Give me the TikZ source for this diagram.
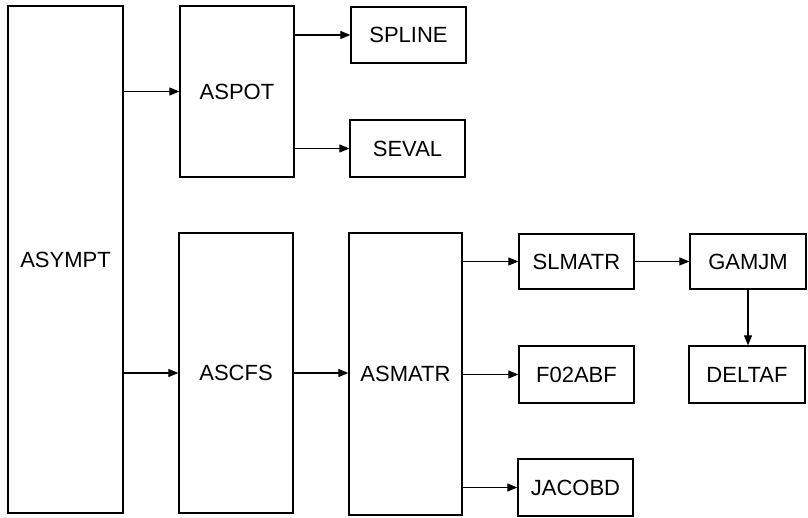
\documentclass[tikz,border=0pt]{standalone}
\usepackage{fontspec}
\setmainfont{Liberation Sans}
\usetikzlibrary{arrows.meta}
\begin{document}
\begin{tikzpicture}[x=1pt,y=-1pt,
  box/.style={draw,line width=1.3pt,inner sep=0pt,font=\fontsize{22}{26}\selectfont},
  arr/.style={line width=1.1pt,-{Triangle[length=10pt,width=8pt]}}]
\useasboundingbox (0,0) rectangle (808,517);
\node[box,minimum width=115pt,minimum height=507pt] (asympt) at (65.5,259.5) {ASYMPT};
\node[box,minimum width=114pt,minimum height=171pt] (aspot) at (237,91.5) {ASPOT};
\node[box,minimum width=115pt,minimum height=56pt] (spline) at (408.5,35) {SPLINE};
\node[box,minimum width=115pt,minimum height=57pt] (seval) at (407.5,148.5) {SEVAL};
\node[box,minimum width=114pt,minimum height=280pt] (ascfs) at (236,373) {ASCFS};
\node[box,minimum width=113pt,minimum height=282pt] (asmatr) at (405.5,374) {ASMATR};
\node[box,minimum width=115pt,minimum height=55pt] (slmatr) at (576.5,261.5) {SLMATR};
\node[box,minimum width=116pt,minimum height=55pt] (gamjm) at (748,261.5) {GAMJM};
\node[box,minimum width=115pt,minimum height=57pt] (f02abf) at (576.5,374.5) {F02ABF};
\node[box,minimum width=116pt,minimum height=57pt] (deltaf) at (747,374.5) {DELTAF};
\node[box,minimum width=115pt,minimum height=57pt] (jacobd) at (575.5,487.5) {JACOBD};
\draw[arr] (asympt.east |- aspot) -- (aspot.west);
\draw[arr] (asympt.east |- ascfs) -- (ascfs.west);
\draw[arr] (aspot.east |- spline) -- (spline.west);
\draw[arr] (aspot.east |- seval) -- (seval.west);
\draw[arr] (ascfs.east) -- (asmatr.west |- ascfs.east);
\draw[arr] (asmatr.east |- slmatr) -- (slmatr.west);
\draw[arr] (asmatr.east |- f02abf) -- (f02abf.west);
\draw[arr] (asmatr.east |- jacobd) -- (jacobd.west);
\draw[arr] (slmatr.east) -- (gamjm.west);
\draw[arr] (gamjm.south) -- (deltaf.north -| gamjm.south);
\end{tikzpicture}
\end{document}
